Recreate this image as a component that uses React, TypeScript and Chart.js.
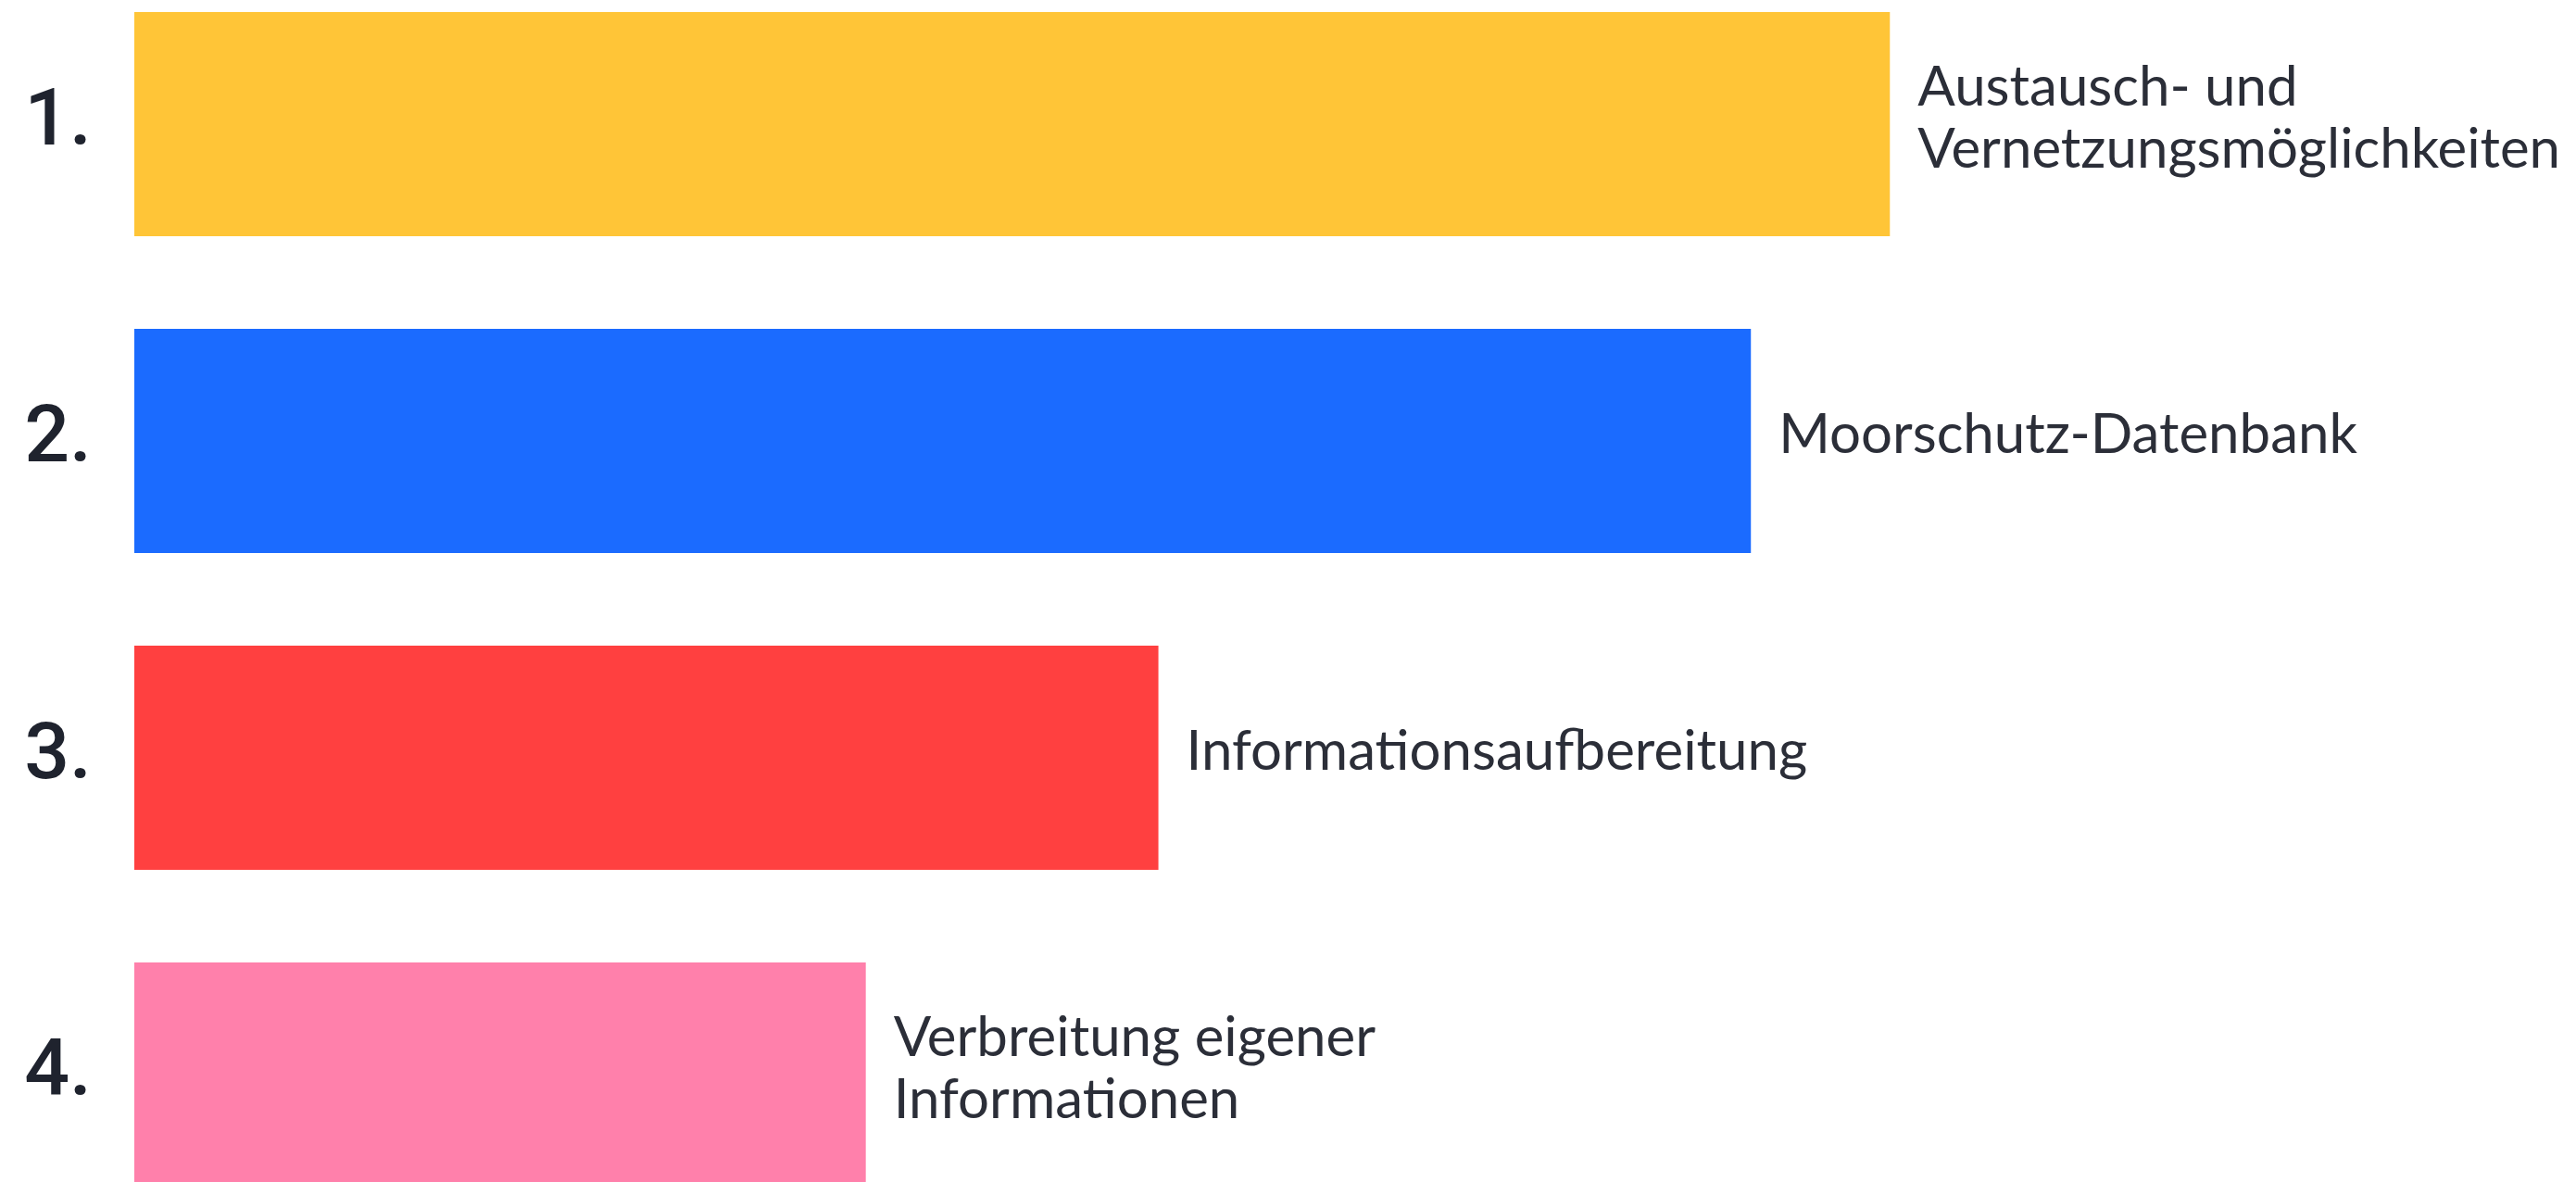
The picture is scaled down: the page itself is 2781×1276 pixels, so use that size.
import React, { useEffect, useRef } from "react";
import { Chart, registerables } from "chart.js";

Chart.register(...registerables);

const categories = ["1.", "2.", "3.", "4."];
const values = [24, 22.1, 14, 10];
const barLabels: string[][] = [
  ["Austausch- und", "Vernetzungsmöglichkeiten"],
  ["Moorschutz-Datenbank"],
  ["Informationsaufbereitung"],
  ["Verbreitung eigener", "Informationen"],
];
const barColors = ["#FFC537", "#1B6BFF", "#FF4040", "#FF80AB"];

const LABEL_FONT = '400 60px Lato, "Noto Sans", sans-serif';
const LABEL_COLOR = "#2B2E38";

const endLabels = {
  id: "endLabels",
  afterDatasetsDraw(chart: any) {
    const ctx = chart.ctx;
    const meta = chart.getDatasetMeta(0);
    ctx.save();
    ctx.font = LABEL_FONT;
    ctx.fillStyle = LABEL_COLOR;
    ctx.textAlign = "left";
    ctx.textBaseline = "middle";
    const lineH = 67;
    meta.data.forEach((el: any, i: number) => {
      const lines = barLabels[i];
      const x = el.x + 30;
      const y0 = el.y - 6 - ((lines.length - 1) * lineH) / 2;
      lines.forEach((ln, j) => ctx.fillText(ln, x, y0 + j * lineH));
    });
    ctx.restore();
  },
};

export default function App() {
  const ref = useRef<HTMLCanvasElement | null>(null);
  useEffect(() => {
    if (!ref.current) return;
    const chart = new Chart(ref.current, {
      type: "bar",
      data: {
        labels: categories,
        datasets: [
          {
            data: values,
            backgroundColor: barColors,
            borderWidth: 0,
            categoryPercentage: 1,
            barPercentage: 0.7076,
          },
        ],
      },
      options: {
        indexAxis: "y",
        animation: false,
        responsive: false,
        maintainAspectRatio: false,
        layout: { padding: { top: 3, bottom: 9, left: 0, right: 30 } },
        plugins: { legend: { display: false }, tooltip: { enabled: false } },
        scales: {
          x: { display: false, min: 0, max: 33 },
          y: {
            afterFit: (s: any) => {
              s.width = 145;
              s.paddingTop = 0;
              s.paddingBottom = 0;
            },
            grid: { display: false, drawTicks: false },
            border: { display: false },
            ticks: {
              padding: 46,
              color: "#1F232E",
              font: { family: "Roboto, Arial, sans-serif", size: 86, weight: "500" },
            },
          },
        },
      },
      plugins: [endLabels],
    });
    return () => chart.destroy();
  }, []);
  return (
    <div
      style={{
        position: "absolute",
        left: 0,
        top: 0,
        width: 2781,
        height: 1276,
        overflow: "hidden",
        background: "#fff",
      }}
    >
      <canvas
        ref={ref}
        width={2781}
        height={1380}
        style={{ position: "absolute", left: 0, top: -40, width: 2781, height: 1380 }}
      />
    </div>
  );
}
